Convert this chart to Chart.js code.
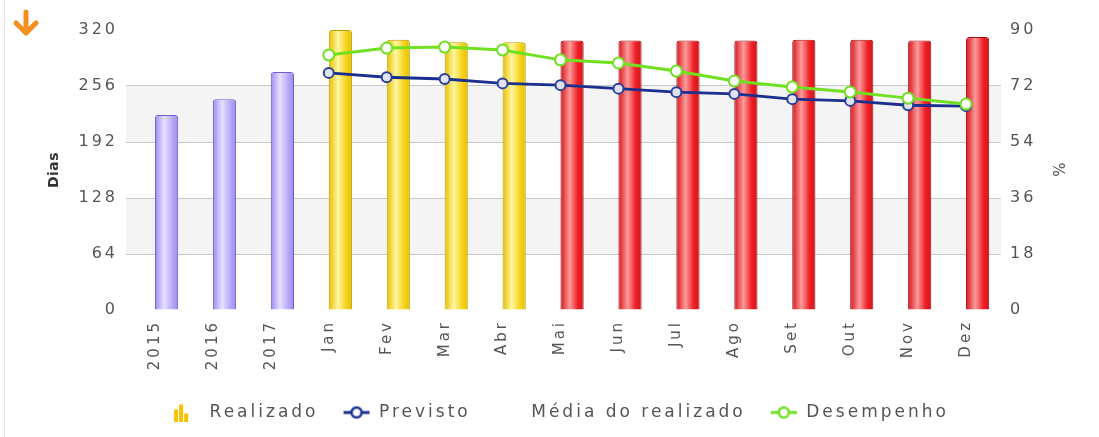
<!DOCTYPE html>
<html>
<head>
<meta charset="utf-8">
<script src="https://cdn.jsdelivr.net/npm/chart.js@4.4.1/dist/chart.umd.min.js"></script>
<style>
html, body { margin: 0; padding: 0; background: #fff; }
#wrap { position: relative; width: 1099px; height: 437px; overflow: hidden; }
#frame { position: absolute; left: 4px; top: 0; width: 1px; height: 437px; background: #e4e4e4; }
#seta { position: absolute; left: 11px; top: 9px; }
canvas { position: absolute; left: 0; top: 0; }
</style>
</head>
<body>
<div id="wrap">
  <div id="frame"></div>
  <svg id="seta" width="30" height="28" viewBox="0 0 30 28">
    <path d="M15 3 V23 M5 14 L15 24 L25 14" stroke="#f39020" stroke-width="5" fill="none" stroke-linecap="round" stroke-linejoin="round"/>
  </svg>
  <canvas id="grafico" width="1099" height="437"></canvas>
</div>
<script>
// dados
const categorias = ['2015', '2016', '2017', 'Jan', 'Fev', 'Mar', 'Abr', 'Mai', 'Jun', 'Jul', 'Ago', 'Set', 'Out', 'Nov', 'Dez'];
const realizado = [223, 241, 272, 320, 309, 306, 306, 308, 308, 308, 308, 309, 309, 308, 312];
const previsto = [null, null, null, 271, 266, 264, 259, 257, 253, 249, 247, 241, 239, 234, 233];
const mediaRealizado = [null, null, null, null, null, null, null, null, null, null, null, null, null, null, null];
const desempenho = [null, null, null, 82.0, 84.2, 84.5, 83.6, 80.4, 79.4, 76.8, 73.6, 71.7, 70.1, 68.1, 66.2];
const ticksDias = [0, 64, 128, 192, 256, 320];
const ticksPct = [0, 18, 36, 54, 72, 90];
const legendaOrdem = ['Realizado', 'Previsto', 'Média do realizado', 'Desempenho'];

const catPct = 0.8;
const tons = {
    ano: ['#9e8aee', '#e6e0ff', '#b8a9f7', '#735ed0'],
    fechado: ['#e6be00', '#fff6a0', '#f6d31c', '#c29f00'],
    aberto: ['#d4141b', '#ff9a9a', '#ec2026', '#a80c10']
};
function grupo(i) {
    return i < 3 ? 'ano' : (i < 7 ? 'fechado' : 'aberto');
}

function corBarra(ctx) {
    const chart = ctx.chart;
    const t = tons[grupo(ctx.dataIndex)];
    const x = chart.scales.x;
    if (!x || !x.width) return t[2];
    const larg = x.width / categorias.length * catPct / 2;
    const centro = x.getPixelForValue(ctx.dataIndex) + larg / 2;
    const g = chart.ctx.createLinearGradient(centro - larg / 2, 0, centro + larg / 2, 0);
    g.addColorStop(0, t[0]);
    g.addColorStop(0.4, t[1]);
    g.addColorStop(0.75, t[2]);
    g.addColorStop(1, t[0]);
    return g;
}

function icone(desenho) {
    const c = document.createElement('canvas');
    c.width = 28; c.height = 18;
    desenho(c.getContext('2d'));
    return c;
}
function iconeLinha(cor, fundo) {
    return icone(function (g) {
        g.strokeStyle = cor; g.lineWidth = 3;
        g.beginPath(); g.moveTo(1, 9); g.lineTo(27, 9); g.stroke();
        g.fillStyle = fundo; g.lineWidth = 2.5;
        g.beginPath(); g.arc(14, 9, 5, 0, Math.PI * 2); g.fill(); g.stroke();
    });
}
const icones = {
    'Realizado': icone(function (g) {
        g.fillStyle = '#f5c400';
        g.fillRect(1, 6, 4, 12);
        g.fillRect(6, 1, 4, 17);
        g.fillRect(11, 10, 4, 8);
    }),
    'Previsto': iconeLinha('#1b2f8f', '#ffffff'),
    'Média do realizado': icone(function () {}),
    'Desempenho': iconeLinha('#70e020', '#ffffff')
};

const espacamento = {
    id: 'espacamento',
    beforeLayout(chart) { chart.ctx.letterSpacing = '3px'; },
    beforeDraw(chart) { chart.ctx.letterSpacing = '3px'; }
};
const faixas = {
    id: 'faixas',
    beforeDraw(chart) {
        const {ctx, chartArea: a, scales: {y}} = chart;
        ctx.save();
        ctx.fillStyle = '#f4f4f4';
        [[ticksDias[1], ticksDias[2]], [ticksDias[3], ticksDias[4]]].forEach(function (f) {
            const topo = y.getPixelForValue(f[1]);
            const base = y.getPixelForValue(f[0]);
            ctx.fillRect(a.left, topo, a.right - a.left + 6, base - topo);
        });
        ctx.restore();
    }
};

// titulo dos eixos com espaco entre letras menor
function tituloJusto(s) {
    if (s._tituloJusto) return;
    s._tituloJusto = true;
    const orig = s.drawTitle;
    s.drawTitle = function () {
        this.ctx.save();
        this.ctx.letterSpacing = '0.5px';
        orig.call(this);
        this.ctx.restore();
    };
}

const linhaGrade = function (c) {
    const v = c.tick ? c.tick.value : null;
    return (v === ticksDias[0] || v === ticksDias[ticksDias.length - 1]) ? 'rgba(0,0,0,0)' : '#c8c8c8';
};
const linhaGradePct = function (c) {
    const v = c.tick ? c.tick.value : null;
    return (v === ticksPct[0] || v === ticksPct[ticksPct.length - 1]) ? 'rgba(0,0,0,0)' : '#c8c8c8';
};

Chart.defaults.font.family = 'DejaVu Sans';
Chart.defaults.color = '#555';

new Chart(document.getElementById('grafico'), {
    data: {
        labels: categorias,
        datasets: [
            {
                type: 'bar', label: 'Média do realizado', data: mediaRealizado,
                backgroundColor: 'rgba(0,0,0,0)', categoryPercentage: catPct, barPercentage: 1, order: 1.5
            },
            {
                type: 'bar', label: 'Realizado', data: realizado,
                backgroundColor: corBarra,
                borderColor: function (c) { return tons[grupo(c.dataIndex)][3]; },
                borderWidth: 1,
                borderRadius: {topLeft: 3, topRight: 3},
                borderSkipped: 'bottom',
                categoryPercentage: catPct, barPercentage: 1, order: 2
            },
            {
                type: 'line', label: 'Previsto', data: previsto,
                borderColor: '#1b2f8f', borderWidth: 3, tension: 0,
                pointRadius: 5, pointBackgroundColor: '#dfe3f5', pointBorderColor: '#2a3f9a', pointBorderWidth: 2,
                order: 1
            },
            {
                type: 'line', label: 'Desempenho', data: desempenho, yAxisID: 'y2',
                borderColor: '#70e020', borderWidth: 3, tension: 0,
                pointRadius: 5.5, pointBackgroundColor: '#ffffff', pointBorderColor: '#70e020', pointBorderWidth: 2,
                order: 0
            }
        ]
    },
    options: {
        responsive: false,
        animation: false,
        events: [],
        layout: { padding: { left: 30, right: 7, top: 30, bottom: 6 } },
        scales: {
            x: {
                grid: { display: false, drawTicks: false },
                border: { display: false },
                ticks: {
                    autoSkip: false, minRotation: 90, maxRotation: 90, padding: 10,
                    font: { size: 15 }, color: '#555'
                },
                afterFit: function (s) { s.height = 70; }
            },
            y: {
                position: 'left',
                min: ticksDias[0], max: ticksDias[ticksDias.length - 1],
                border: { display: false },
                grid: { color: linhaGrade, drawTicks: false, lineWidth: 1 },
                ticks: { stepSize: ticksDias[1] - ticksDias[0], padding: 8, font: { size: 16 }, color: '#555' },
                title: {
                    display: true, text: 'Dias', color: '#333',
                    font: { size: 14, weight: 'bold' }, padding: { top: 16, bottom: 0 }
                },
                afterFit: function (s) { s.width = 96; tituloJusto(s); }
            },
            y2: {
                position: 'right',
                min: ticksPct[0], max: ticksPct[ticksPct.length - 1],
                border: { display: false },
                grid: { drawOnChartArea: false, drawTicks: true, tickLength: 6, color: linhaGradePct },
                ticks: { stepSize: ticksPct[1] - ticksPct[0], padding: 9, font: { size: 16 }, color: '#555' },
                title: {
                    display: true, text: '%', color: '#555',
                    font: { size: 15 }, padding: { top: 26, bottom: 0 }
                },
                afterFit: function (s) { s.width = 97; tituloJusto(s); }
            }
        },
        plugins: {
            tooltip: { enabled: false },
            legend: {
                position: 'bottom',
                labels: {
                    usePointStyle: true,
                    pointStyleWidth: 28,
                    padding: 24,
                    color: '#555',
                    font: { size: 17 },
                    generateLabels: function (chart) {
                        return Chart.defaults.plugins.legend.labels.generateLabels(chart).map(function (it) {
                            it.pointStyle = icones[it.text];
                            it.fontColor = '#555';
                            return it;
                        });
                    },
                    sort: function (a, b) {
                        return legendaOrdem.indexOf(a.text) - legendaOrdem.indexOf(b.text);
                    }
                }
            }
        }
    },
    plugins: [espacamento, faixas]
});
</script>
</body>
</html>
